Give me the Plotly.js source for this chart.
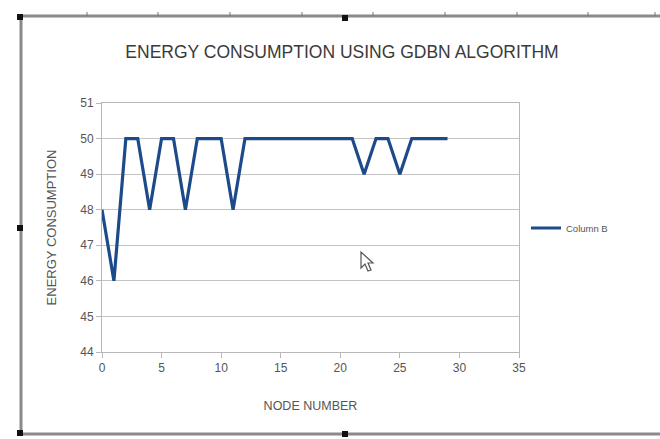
<!DOCTYPE html>
<html>
<head>
<meta charset="utf-8">
<script src="https://cdn.plot.ly/plotly-3.0.1.min.js"></script>
<style>html,body{margin:0;padding:0;background:#fff;}#chart{width:660px;height:439px;}</style>
</head>
<body>
<div id="chart"></div>
<script>
const nodeNumbers = [0,1,2,3,4,5,6,7,8,9,10,11,12,13,14,15,16,17,18,19,20,21,22,23,24,25,26,27,28,29];
const energyConsumption = [48,46,50,50,48,50,50,48,50,50,50,48,50,50,50,50,50,50,50,50,50,50,49,50,50,49,50,50,50,50];
const seriesName = "Column B";
const chartTitle = "ENERGY CONSUMPTION USING GDBN ALGORITHM";
const xTitle = "NODE NUMBER";
const yTitle = "ENERGY CONSUMPTION";

const W = 660, H = 439;
const L = 102, R = 519, T = 103, B = 352;
const px2x = p => (p - L) / (R - L);
const px2y = p => (B - p) / (B - T);

const frameColor = "#8a8a8a";
const shapes = [];
shapes.push({type:"line", xref:"paper", yref:"paper", x0:px2x(20), x1:px2x(660), y0:px2y(16), y1:px2y(16), line:{color:frameColor, width:3}});
shapes.push({type:"line", xref:"paper", yref:"paper", x0:px2x(21), x1:px2x(21), y0:px2y(16), y1:px2y(434), line:{color:frameColor, width:3}});
shapes.push({type:"line", xref:"paper", yref:"paper", x0:px2x(20), x1:px2x(660), y0:px2y(434), y1:px2y(434), line:{color:frameColor, width:3}});
[87,158,230,302,373,445,517,588,655].forEach(p => {
  shapes.push({type:"line", xref:"paper", yref:"paper", x0:px2x(p), x1:px2x(p), y0:px2y(16), y1:px2y(12), line:{color:"#777", width:1}});
});
[[20,17],[345,18],[20,228],[20,433],[345,434]].forEach(([cx,cy]) => {
  shapes.push({type:"rect", xref:"paper", yref:"paper", x0:px2x(cx-3), x1:px2x(cx+3), y0:px2y(cy-3), y1:px2y(cy+3), fillcolor:"#111", line:{width:0}});
});
const cur = [[361,252],[361,268],[365,264],[368,271],[371,270],[368,263],[373,263]];
shapes.push({type:"path", xref:"paper", yref:"paper",
  path: "M" + cur.map(([a,b]) => px2x(a) + "," + px2y(b)).join(" L") + " Z",
  fillcolor:"#fff", line:{color:"#555", width:1.2}});

const trace = {
  x: nodeNumbers, y: energyConsumption, name: seriesName,
  type: "scatter", mode: "lines",
  line: {color: "#1d4b8a", width: 3.2}
};

const fam = "Liberation Sans, Arial, sans-serif";
const axisFont = {family: fam, size: 12, color: "#555"};
const layout = {
  width: W, height: H,
  margin: {l: L, r: W - R, t: T, b: H - B, pad: 0},
  paper_bgcolor: "#fff", plot_bgcolor: "#fff",
  font: {family: fam, color: "#444"},
  title: {text: chartTitle, font: {size: 17.5, color: "#3a3a3a", family: fam},
          xref: "paper", x: px2x(342), xanchor: "center", yref: "container", y: 1 - 52/H, yanchor: "middle"},
  xaxis: {range: [0, 35], dtick: 5, tick0: 0, showgrid: false, zeroline: false,
          showline: true, linecolor: "#b8b8b8", linewidth: 1, mirror: true,
          ticks: "outside", ticklen: 5, tickcolor: "#b8b8b8", tickfont: axisFont,
          title: {text: xTitle, font: {size: 12.5, color: "#555"}, standoff: 26}},
  yaxis: {range: [44, 51], dtick: 1, showgrid: true, gridcolor: "#c4c4c4", gridwidth: 1, zeroline: false,
          showline: true, linecolor: "#b8b8b8", linewidth: 1, mirror: true,
          ticks: "outside", ticklen: 5, tickcolor: "#b8b8b8", tickfont: axisFont,
          title: {text: yTitle, font: {size: 13, color: "#555"}, standoff: 20}},
  showlegend: true,
  legend: {x: px2x(526), xanchor: "left", y: px2y(228), yanchor: "middle",
           font: {size: 9.5, color: "#555"}, bgcolor: "rgba(0,0,0,0)", itemwidth: 30},
  shapes: shapes
};

Plotly.newPlot("chart", [trace], layout, {staticPlot: true, displayModeBar: false});
</script>
</body>
</html>
